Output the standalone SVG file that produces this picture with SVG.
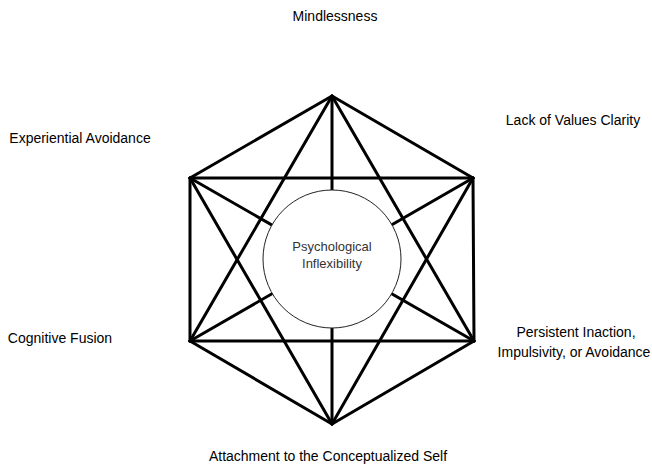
<svg xmlns="http://www.w3.org/2000/svg" width="652" height="464" viewBox="0 0 652 464">
<style>
.e{stroke:#000;stroke-width:3;stroke-linecap:round;fill:none}
.lbl{font-family:"Liberation Sans",Arial,sans-serif;font-size:14px;fill:#000}
.c{font-family:"Liberation Sans",Arial,sans-serif;font-size:13px;fill:#333;text-anchor:middle}
</style>
<rect width="652" height="464" fill="#fff"/>
<g id="connectors">
<line class="e" x1="332" y1="96" x2="473" y2="178"/>
<line class="e" x1="332" y1="96" x2="474" y2="341"/>
<line class="e" x1="332" y1="96" x2="332" y2="424"/>
<line class="e" x1="332" y1="96" x2="190" y2="341"/>
<line class="e" x1="332" y1="96" x2="190" y2="178"/>
<line class="e" x1="473" y1="178" x2="474" y2="341"/>
<line class="e" x1="473" y1="178" x2="332" y2="424"/>
<line class="e" x1="473" y1="178" x2="190" y2="341"/>
<line class="e" x1="473" y1="178" x2="190" y2="178"/>
<line class="e" x1="474" y1="341" x2="332" y2="424"/>
<line class="e" x1="474" y1="341" x2="190" y2="341"/>
<line class="e" x1="474" y1="341" x2="190" y2="178"/>
<line class="e" x1="332" y1="424" x2="190" y2="341"/>
<line class="e" x1="332" y1="424" x2="190" y2="178"/>
<line class="e" x1="190" y1="341" x2="190" y2="178"/>
</g>
<g id="center">
<circle cx="332" cy="259" r="69" fill="#fff" stroke="#222" stroke-width="1"/>
<text class="c" x="332" y="251">Psychological</text>
<text class="c" x="332" y="268">Inflexibility</text>
</g>
<g id="mindlessness"><text class="lbl" x="335" y="21" text-anchor="middle">Mindlessness</text></g>
<g id="lack-values"><text class="lbl" x="573" y="125" text-anchor="middle">Lack of Values Clarity</text></g>
<g id="experiential-avoidance"><text class="lbl" x="80" y="143" text-anchor="middle">Experiential Avoidance</text></g>
<g id="cognitive-fusion"><text class="lbl" x="60" y="343" text-anchor="middle">Cognitive Fusion</text></g>
<g id="persistent-inaction">
<text class="lbl" x="576" y="337" text-anchor="middle">Persistent Inaction,</text>
<text class="lbl" x="574" y="357" text-anchor="middle">Impulsivity, or Avoidance</text>
</g>
<g id="attachment"><text class="lbl" x="328" y="461" text-anchor="middle">Attachment to the Conceptualized Self</text></g>
</svg>
